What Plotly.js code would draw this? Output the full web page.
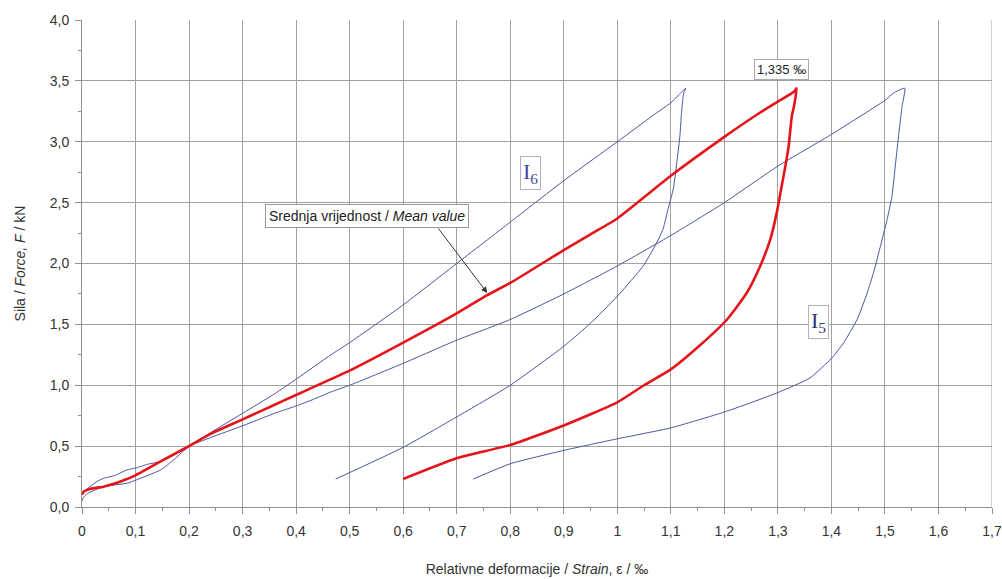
<!DOCTYPE html>
<html>
<head>
<meta charset="utf-8">
<script src="https://cdn.plot.ly/plotly-3.0.1.min.js"></script>
<style>html,body{margin:0;padding:0;background:#fff;}#chart{width:1002px;height:579px;}</style>
</head>
<body>
<div id="chart"></div>
<script>
// Mean value (red) – loading then unloading
var meanX = [0, 0.003, 0.016, 0.04, 0.072, 0.1, 0.147, 0.2, 0.24, 0.3, 0.36, 0.4, 0.43, 0.465, 0.5, 0.6, 0.7, 0.757, 0.8, 0.9, 0.95, 1.0, 1.1, 1.2, 1.267, 1.3, 1.33, 1.335,
             1.33, 1.326, 1.32, 1.314, 1.306, 1.298, 1.286, 1.267, 1.242, 1.205, 1.155, 1.1, 1.05, 1.0, 0.9, 0.8, 0.7, 0.6];
var meanY = [0.10, 0.125, 0.15, 0.167, 0.21, 0.26, 0.375, 0.5, 0.6, 0.72, 0.84, 0.92, 0.98, 1.05, 1.12, 1.35, 1.59, 1.74, 1.84, 2.11, 2.24, 2.37, 2.72, 3.04, 3.24, 3.33, 3.41, 3.44,
             3.29, 3.21, 2.96, 2.80, 2.61, 2.42, 2.2, 1.98, 1.76, 1.54, 1.33, 1.13, 1.0, 0.86, 0.67, 0.51, 0.40, 0.23];

// Specimen I6 (blue) – loading then unloading
var i6X = [0, 0.003, 0.01, 0.04, 0.084, 0.1, 0.147, 0.172, 0.2, 0.24, 0.3, 0.36, 0.4, 0.465, 0.5, 0.6, 0.7, 0.8, 0.9, 1.0, 1.068, 1.1, 1.128,
           1.124, 1.12, 1.117, 1.112, 1.105, 1.095, 1.086, 1.077, 1.05, 1.0, 0.95, 0.9, 0.8, 0.7, 0.6, 0.474];
var i6Y = [0.05, 0.08, 0.11, 0.167, 0.195, 0.22, 0.305, 0.39, 0.5, 0.61, 0.77, 0.93, 1.05, 1.25, 1.35, 1.66, 2.0, 2.34, 2.68, 3.0, 3.22, 3.32, 3.44,
           3.40, 3.24, 3.05, 2.86, 2.62, 2.45, 2.29, 2.20, 1.99, 1.73, 1.51, 1.32, 1.0, 0.74, 0.49, 0.23];

// Specimen I5 (blue) – loading then unloading
var i5X = [0, 0.01, 0.028, 0.04, 0.062, 0.084, 0.1, 0.122, 0.147, 0.172, 0.2, 0.24, 0.3, 0.36, 0.4, 0.43, 0.465, 0.5, 0.6, 0.7, 0.8, 0.9, 1.0, 1.1, 1.2, 1.3, 1.4, 1.454, 1.5, 1.516, 1.537,
           1.532, 1.526, 1.52, 1.513, 1.504, 1.492, 1.479, 1.467, 1.448, 1.423, 1.4, 1.36, 1.3, 1.2, 1.1, 1.0, 0.9, 0.8, 0.731];
var i5Y = [0.11, 0.15, 0.21, 0.235, 0.26, 0.305, 0.32, 0.35, 0.375, 0.43, 0.5, 0.57, 0.667, 0.77, 0.83, 0.88, 0.945, 1.0, 1.18, 1.37, 1.54, 1.75, 1.98, 2.23, 2.5, 2.8, 3.06, 3.21, 3.34, 3.40, 3.44,
           3.29, 3.07, 2.83, 2.55, 2.36, 2.15, 1.93, 1.76, 1.54, 1.35, 1.22, 1.06, 0.94, 0.78, 0.65, 0.56, 0.465, 0.355, 0.23];

var xTickVals = [0, 0.1, 0.2, 0.3, 0.4, 0.5, 0.6, 0.7, 0.8, 0.9, 1, 1.1, 1.2, 1.3, 1.4, 1.5, 1.6, 1.7];
var xTickText = ['0', '0,1', '0,2', '0,3', '0,4', '0,5', '0,6', '0,7', '0,8', '0,9', '1', '1,1', '1,2', '1,3', '1,4', '1,5', '1,6', '1,7'];
var yTickVals = [0, 0.5, 1, 1.5, 2, 2.5, 3, 3.5, 4];
var yTickText = ['0,0', '0,5', '1,0', '1,5', '2,0', '2,5', '3,0', '3,5', '4,0'];

var peakLabel = '1,335 ‰';
var peakPos = [1.307, 3.59];
var i6Pos = [0.837, 2.74];
var i5Pos = [1.376, 1.52];
var meanLabelPos = [0.533, 2.39];
var arrowHead = [0.757, 1.758];
var arrowTail = [0.6636, 2.30];

var blue = '#4a55a0';
var traces = [
  {x: i6X, y: i6Y, type: 'scatter', mode: 'lines', line: {color: blue, width: 1, shape: 'spline', smoothing: 0.5}, name: 'I6'},
  {x: i5X, y: i5Y, type: 'scatter', mode: 'lines', line: {color: blue, width: 1, shape: 'spline', smoothing: 0.5}, name: 'I5'},
  {x: meanX, y: meanY, type: 'scatter', mode: 'lines', line: {color: '#e5141b', width: 2.6, shape: 'spline', smoothing: 0.5}, name: 'Mean'}
];

var layout = {
  width: 1002, height: 579,
  margin: {l: 82, r: 10, t: 20, b: 72},
  paper_bgcolor: '#ffffff', plot_bgcolor: '#ffffff',
  showlegend: false,
  font: {family: 'Liberation Sans, Arial, sans-serif', size: 13, color: '#333'},
  xaxis: {
    range: [0, 1.7], tickvals: xTickVals, ticktext: xTickText,
    showgrid: true, gridcolor: '#a0a0a0', gridwidth: 1,
    showline: true, linecolor: '#909090', linewidth: 1,
    ticks: 'outside', ticklen: 6, tickcolor: '#909090', ticklabelstandoff: 5,
    minor: {ticks: 'outside', dtick: 0.05, tick0: 0, ticklen: 3, tickcolor: '#909090', showgrid: false},
    zeroline: false,
    tickfont: {size: 14, color: '#333'},
    title: {text: 'Relativne deformacije / <i>Strain</i>, ε / ‰', font: {size: 14, color: '#333'}, standoff: 26}
  },
  yaxis: {
    range: [0, 4], tickvals: yTickVals, ticktext: yTickText,
    showgrid: true, gridcolor: '#a0a0a0', gridwidth: 1,
    showline: true, linecolor: '#909090', linewidth: 1,
    ticks: 'outside', ticklen: 6, tickcolor: '#909090', ticklabelstandoff: 3,
    minor: {ticks: 'outside', dtick: 0.25, tick0: 0, ticklen: 3, tickcolor: '#909090', showgrid: false},
    zeroline: false,
    tickfont: {size: 14, color: '#333'},
    title: {text: 'Sila / <i>Force, F</i> / kN', font: {size: 14, color: '#333'}, standoff: 20}
  },
  shapes: [
    {type: 'line', xref: 'x', yref: 'y', x0: 1.7, x1: 1.7, y0: 0, y1: 4, line: {color: '#a0a0a0', width: 1}}
  ],
  annotations: [
    {x: peakPos[0], y: peakPos[1], xref: 'x', yref: 'y', text: peakLabel, showarrow: false,
     font: {size: 13, color: '#222'}, bgcolor: '#ffffff', bordercolor: '#aaaaaa', borderwidth: 1, borderpad: 2},
    {x: i6Pos[0], y: i6Pos[1], xref: 'x', yref: 'y', text: 'I<sub>6</sub>', showarrow: false,
     font: {family: 'Liberation Serif, Times New Roman, serif', size: 22, color: '#3b4a9c'}, bgcolor: '#ffffff', bordercolor: '#b0b0c0', borderwidth: 1, borderpad: 2},
    {x: i5Pos[0], y: i5Pos[1], xref: 'x', yref: 'y', text: 'I<sub>5</sub>', showarrow: false,
     font: {family: 'Liberation Serif, Times New Roman, serif', size: 22, color: '#2e3470'}, bgcolor: '#ffffff', bordercolor: '#b0b0c0', borderwidth: 1, borderpad: 2},
    {x: meanLabelPos[0], y: meanLabelPos[1], xref: 'x', yref: 'y', text: 'Srednja vrijednost / <i>Mean value</i>', showarrow: false,
     font: {size: 14, color: '#222'}, bgcolor: '#ffffff', bordercolor: '#999999', borderwidth: 1, borderpad: 3},
    {x: arrowHead[0], y: arrowHead[1], xref: 'x', yref: 'y', axref: 'x', ayref: 'y', ax: arrowTail[0], ay: arrowTail[1],
     text: '', showarrow: true, arrowhead: 2, arrowsize: 1.2, arrowwidth: 1, arrowcolor: '#333', standoff: 0, startstandoff: 0}
  ]
};

Plotly.newPlot('chart', traces, layout, {displayModeBar: false, staticPlot: true});
</script>
</body>
</html>
